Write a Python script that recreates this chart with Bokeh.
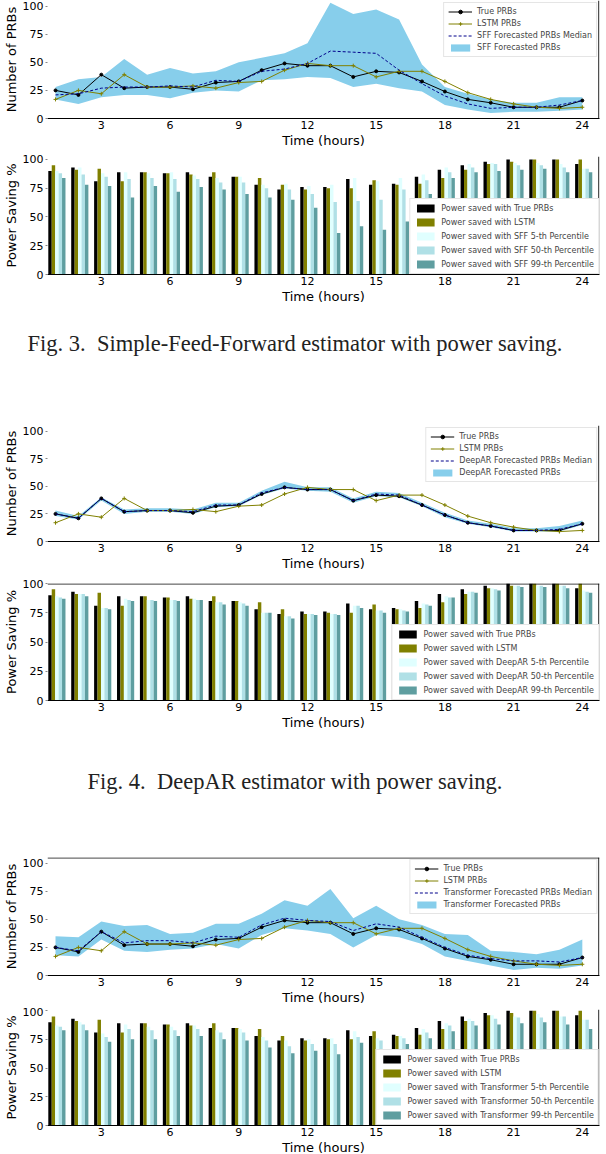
from bokeh.plotting import figure
from bokeh.layouts import column
from bokeh.models import Div, Legend, LegendItem, ColumnDataSource, FixedTicker, Range1d, Span
from bokeh.transform import dodge
from bokeh.embed import file_html
from bokeh.resources import INLINE

hours = list(range(1, 25))
x_ticks = [3, 6, 9, 12, 15, 18, 21, 24]
y_ticks = [0, 25, 50, 75, 100]

true_prbs = [25, 21, 39, 27, 28, 28, 26, 32, 33, 43, 49, 47, 47, 37, 42, 41, 33, 24, 17, 14, 10, 10, 10, 16]
lstm_prbs = [17, 25, 22, 39, 28, 28, 29, 27, 32, 33, 43, 49, 47, 47, 37, 42, 42, 33, 23, 17, 13, 10, 9, 10]

sff_median = [21, 22, 27, 28, 28, 29, 28, 34, 33, 42, 44, 49, 60, 59, 58, 43, 31, 20, 13, 9, 10, 10, 12, 16]
sff_upper = [28, 35, 37, 53, 39, 45, 40, 42, 50, 54, 58, 67, 103, 93, 97, 88, 48, 28, 22, 17, 14, 14, 19, 19]
sff_lower = [17, 13, 19, 21, 21, 18, 23, 25, 24, 34, 35, 37, 36, 28, 31, 27, 24, 12, 8, 5, 6, 6, 7, 8]

deepar_median = [25, 21, 39, 27, 28, 28, 27, 33, 33, 44, 49, 47, 47, 37, 43, 42, 33, 24, 17, 14, 10, 10, 11, 16]
deepar_upper = [28, 23, 40, 29, 30, 30, 29, 35, 35, 46, 54, 49, 49, 39, 45, 44, 35, 26, 19, 16, 12, 12, 14, 19]
deepar_lower = [23, 20, 37, 25, 27, 27, 25, 31, 32, 42, 48, 46, 45, 35, 41, 40, 32, 22, 16, 13, 9, 9, 9, 15]

tr_median = [25, 22, 39, 29, 31, 31, 29, 35, 34, 45, 51, 49, 48, 40, 46, 43, 34, 25, 18, 15, 13, 13, 12, 16]
tr_upper = [35, 34, 48, 44, 45, 37, 38, 46, 46, 55, 67, 62, 77, 51, 62, 50, 45, 37, 36, 22, 21, 19, 23, 32]
tr_lower = [18, 17, 32, 22, 21, 23, 24, 28, 24, 36, 42, 40, 37, 25, 36, 34, 28, 17, 13, 9, 5, 7, 6, 9]

power_true = [90, 93, 81, 89, 89, 88, 89, 85, 85, 78, 74, 76, 76, 83, 78, 79, 85, 91, 95, 98, 100, 100, 100, 96]
power_lstm = [95, 91, 92, 81, 89, 88, 87, 89, 85, 84, 78, 74, 75, 75, 82, 78, 79, 84, 91, 96, 98, 100, 100, 100]

sff_p5 = [90, 93, 88, 89, 88, 89, 86, 84, 85, 78, 79, 77, 78, 84, 81, 84, 87, 93, 96, 97, 97, 97, 96, 92]
sff_p50 = [88, 87, 85, 83, 84, 83, 83, 80, 80, 75, 74, 70, 63, 64, 65, 74, 82, 89, 93, 96, 95, 95, 93, 92]
sff_p99 = [84, 78, 77, 67, 77, 72, 76, 74, 70, 67, 65, 58, 36, 42, 39, 46, 70, 84, 89, 90, 91, 92, 89, 89]

deepar_p5 = [89, 91, 79, 87, 86, 86, 87, 84, 84, 75, 72, 74, 74, 81, 77, 78, 83, 89, 93, 96, 98, 98, 98, 94]
deepar_p50 = [88, 91, 79, 86, 86, 86, 86, 84, 83, 75, 72, 74, 74, 81, 77, 77, 82, 88, 93, 95, 98, 98, 98, 93]
deepar_p99 = [87, 89, 78, 85, 85, 85, 86, 82, 81, 75, 70, 73, 73, 79, 75, 76, 81, 88, 92, 94, 97, 97, 96, 92]

tr_p5 = [87, 90, 80, 88, 86, 86, 87, 83, 84, 77, 74, 75, 76, 82, 76, 78, 84, 89, 93, 96, 95, 97, 95, 92]
tr_p50 = [86, 88, 77, 84, 83, 83, 84, 81, 81, 74, 69, 71, 71, 77, 74, 76, 81, 87, 91, 93, 94, 94, 95, 92]
tr_p99 = [83, 83, 73, 75, 75, 78, 78, 75, 74, 68, 63, 65, 62, 72, 66, 71, 76, 82, 87, 88, 89, 90, 88, 84]

FONT = "DejaVu Sans"
B = 28  # bottom border reserved for x-axis
XMIN, XMAX = 0.65, 24.75


def style(p, ylabel, ymax, top_spine):
    p.outline_line_color = None
    p.grid.visible = False
    p.xaxis.ticker = FixedTicker(ticks=x_ticks)
    p.yaxis.ticker = FixedTicker(ticks=y_ticks)
    p.xaxis.axis_label = "Time (hours)"
    p.yaxis.axis_label = ylabel
    for ax in (p.xaxis, p.yaxis):
        ax.axis_label_text_font = FONT
        ax.axis_label_text_font_size = "13px"
        ax.axis_label_text_font_style = "normal"
        ax.axis_label_text_color = "black"
        ax.major_label_text_font = FONT
        ax.major_label_text_font_size = "11px"
        ax.major_label_text_color = "black"
        ax.minor_tick_line_color = None
        ax.major_tick_in = 0
        ax.axis_label_standoff = 1
        ax.major_label_standoff = 2
    p.xaxis.major_tick_out = 0
    p.yaxis.major_tick_out = 2
    p.yaxis.axis_line_color = None
    p.yaxis.major_tick_line_color = "#888888"
    p.xaxis.axis_line_color = "black"
    p.add_layout(Span(location=XMAX - 0.03, dimension="height", line_color="black", line_width=1))
    if top_spine:
        p.add_layout(Span(location=ymax - 0.4, dimension="width", line_color="black", line_width=1))


def make_line(name, median, lower, upper, top, fh, ymax, top_spine=False):
    p = figure(frame_width=552, frame_height=fh, x_range=Range1d(XMIN, XMAX), y_range=Range1d(0, ymax),
               output_backend="svg", toolbar_location=None,
               min_border_left=38, min_border_right=6, min_border_top=top, min_border_bottom=B)
    band = p.varea(x=hours, y1=lower, y2=upper, fill_color="#87CEEB")
    l_true = p.line(hours, true_prbs, line_color="black", line_width=1)
    s_true = p.scatter(hours, true_prbs, size=3, color="black")
    l_lstm = p.line(hours, lstm_prbs, line_color="#808000", line_width=1)
    s_lstm = p.scatter(hours, lstm_prbs, marker="cross", size=4, color="#808000")
    l_med = p.line(hours, median, line_color="#00008B", line_width=1, line_dash="3 2")
    style(p, "Number of PRBs", ymax, top_spine)
    leg = Legend(items=[
        LegendItem(label="True PRBs", renderers=[l_true, s_true]),
        LegendItem(label="LSTM PRBs", renderers=[l_lstm, s_lstm]),
        LegendItem(label=name + " Forecasted PRBs Median", renderers=[l_med]),
        LegendItem(label=name + " Forecasted PRBs", renderers=[band]),
    ], location="top_right")
    leg.label_text_font = FONT
    leg.label_text_font_size = "8px"
    leg.label_height = 9
    leg.glyph_height = 9
    leg.glyph_width = 24
    leg.spacing = 3
    leg.padding = 4
    leg.margin = 2
    leg.border_line_color = "#cccccc"
    leg.background_fill_alpha = 0.9
    p.add_layout(leg)
    return p


def make_bar(name, p5, p50, p99, top, fh, ymax, top_spine=False):
    p = figure(frame_width=552, frame_height=fh, x_range=Range1d(XMIN, XMAX), y_range=Range1d(0, ymax),
               output_backend="svg", toolbar_location=None,
               min_border_left=38, min_border_right=6, min_border_top=top, min_border_bottom=B)
    src = ColumnDataSource(dict(hour=hours, t=power_true, l=power_lstm, a=p5, b=p50, c=p99))
    specs = [("t", -0.24, "black", "Power saved with True PRBs"),
             ("l", -0.09, "#808000", "Power saved with LSTM"),
             ("a", 0.06, "#E0FFFF", "Power saved with " + name + " 5-th Percentile"),
             ("b", 0.21, "#B0E0E6", "Power saved with " + name + " 50-th Percentile"),
             ("c", 0.36, "#5F9EA0", "Power saved with " + name + " 99-th Percentile")]
    items = []
    for col, off, colr, lab in specs:
        r = p.vbar(x=dodge("hour", off), top=col, width=0.15, source=src, fill_color=colr, line_color=None)
        items.append(LegendItem(label=lab, renderers=[r]))
    style(p, "Power Saving %", ymax, top_spine)
    leg = Legend(items=items, location="bottom_right")
    leg.label_text_font = FONT
    leg.label_text_font_size = "8px"
    leg.label_height = 10
    leg.glyph_height = 10
    leg.glyph_width = 22
    leg.spacing = 4
    leg.padding = 4
    leg.margin = 0
    leg.border_line_color = "#cccccc"
    leg.background_fill_alpha = 1.0
    p.add_layout(leg)
    return p


def caption(text, h, pad):
    return Div(text=('<div style="width:590px;text-align:center;padding-top:%dpx;'
                     'font-family:\'Liberation Serif\',serif;font-size:22.5px;color:#222;'
                     'white-space:pre;">%s</div>') % (pad, text),
               width=590, height=h, styles={"margin": "0", "padding": "0"})


f1 = make_line("SFF", sff_median, sff_lower, sff_upper, 0, 118, 105)
f2 = make_bar("SFF", sff_p5, sff_p50, sff_p99, 34 - B, 118, 102.6)
c1 = caption("Fig. 3.  Simple-Feed-Forward estimator with power saving.", 147 - B - 4, 22)
f3 = make_line("DeepAR", deepar_median, deepar_lower, deepar_upper, 4, 116, 105)
f4 = make_bar("DeepAR", deepar_p5, deepar_p50, deepar_p99, 10, 117, 100, top_spine=True)
c2 = caption("Fig. 4.  DeepAR estimator with power saving.", 153 - B - 4, 34)
f5 = make_line("Transformer", tr_median, tr_lower, tr_upper, 4, 118, 105, top_spine=True)
f6 = make_bar("Transformer", tr_p5, tr_p50, tr_p99, 2, 116, 101)

layout = column(f1, f2, c1, f3, f4, c2, f5, f6, spacing=0)
open("out.html", "w").write(file_html(layout, INLINE))
